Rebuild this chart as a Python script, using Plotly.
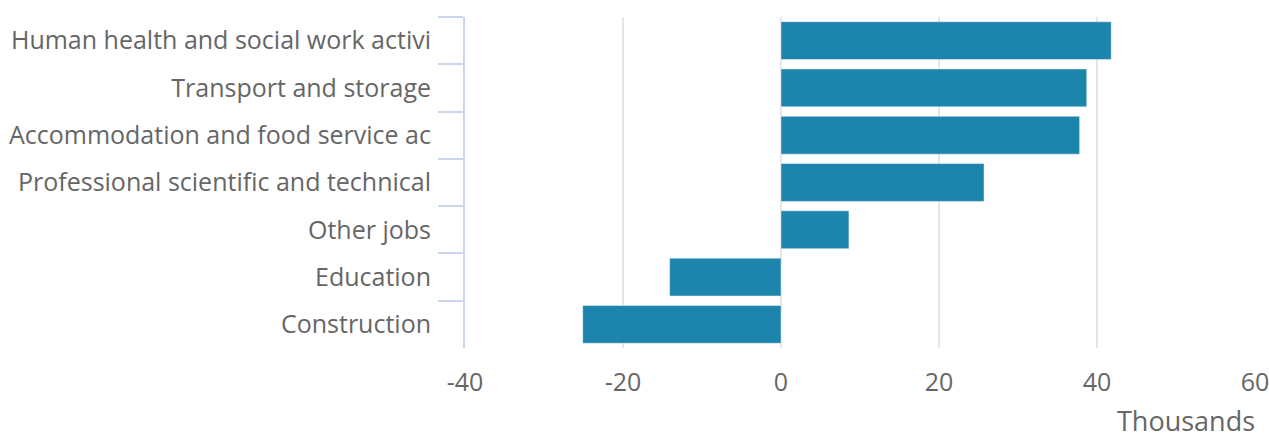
import plotly.graph_objects as go

categories = [
    "Human health and social work activi",
    "Transport and storage",
    "Accommodation and food service ac",
    "Professional scientific and technical",
    "Other jobs",
    "Education",
    "Construction",
]
values = [41.8, 38.7, 37.8, 25.7, 8.6, -14.1, -25.1]
x_tick_vals = [-40, -20, 0, 20, 40, 60]
x_tick_text = ["-40", "-20", "0", "20", "40", "60"]
x_title = "Thousands"

fig = go.Figure(
    go.Bar(
        x=values,
        y=categories,
        orientation="h",
        marker=dict(
            color="rgb(22,129,170)",
            opacity=0.97,
            line=dict(color="rgba(255,255,255,0.45)", width=1),
        ),
        hoverinfo="x+y",
    )
)

font_family = "Open Sans, sans-serif"
fs = 25

fig.update_layout(
    width=1269,
    height=439,
    margin=dict(l=465, r=14, t=17, b=91),
    paper_bgcolor="white",
    plot_bgcolor="white",
    bargap=0.2,
    showlegend=False,
    font=dict(family=font_family, size=fs, color="#666666"),
    xaxis=dict(
        range=[-40, 60],
        tickvals=x_tick_vals,
        ticktext=x_tick_text,
        showgrid=True,
        gridcolor="#e6e6e6",
        gridwidth=2,
        zeroline=False,
        showline=False,
        ticks="",
        automargin=False,
        ticklabeloverflow="allow",
        tickfont=dict(size=fs, color="#666666"),
        ticklabelstandoff=17,
    ),
    yaxis=dict(
        type="category",
        categoryorder="array",
        categoryarray=categories,
        autorange="reversed",
        showgrid=False,
        zeroline=False,
        showline=True,
        linecolor="#ccd6eb",
        linewidth=2,
        ticks="outside",
        tickson="boundaries",
        ticklen=25,
        tickwidth=2,
        tickcolor="#ccd6eb",
        automargin=False,
        tickfont=dict(size=fs, color="#666666"),
        ticklabelstandoff=27,
    ),
    annotations=[
        dict(
            text=x_title,
            xref="paper",
            yref="paper",
            x=1,
            y=0,
            yshift=-72,
            xanchor="right",
            yanchor="middle",
            xshift=2,
            showarrow=False,
            font=dict(size=27, color="#666666", family=font_family),
        )
    ],
)

fig.write_html(
    "out.html",
    config={"displayModeBar": False},
    post_script="document.body.style.margin='0';document.body.style.overflow='hidden';",
)
